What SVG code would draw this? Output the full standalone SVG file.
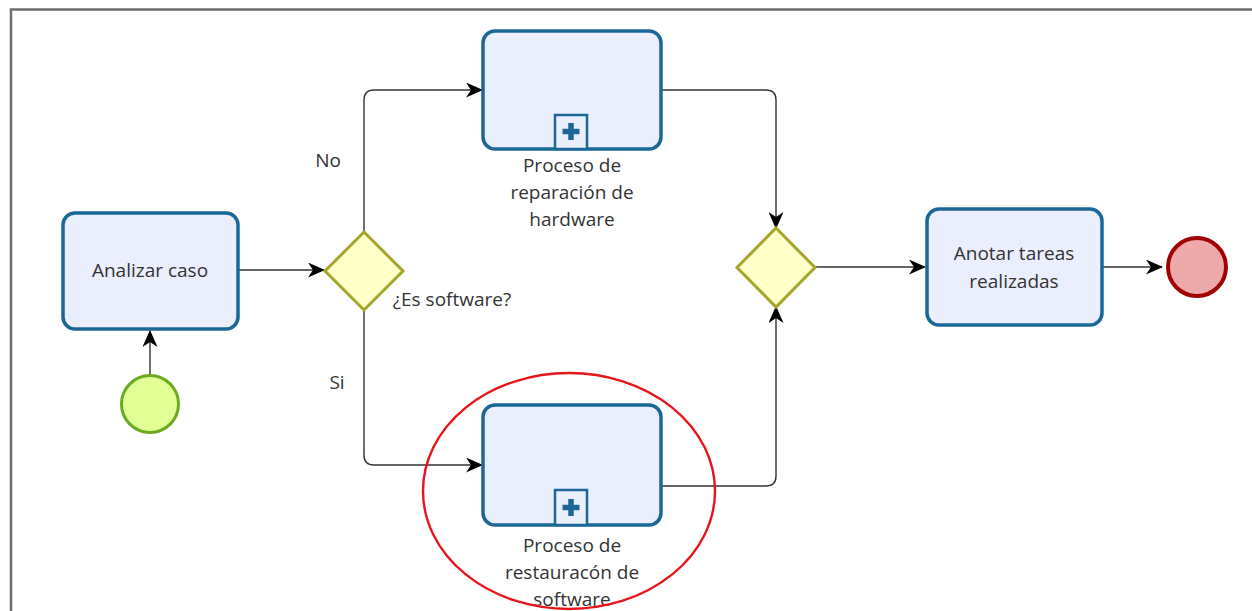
<svg xmlns="http://www.w3.org/2000/svg" width="1252" height="611" viewBox="0 0 1252 611">
  <style>
    .task { fill: #ebeefd; stroke: #1b6898; stroke-width: 3.5; }
    .gate { fill: #ffffc8; stroke: #a5a52a; stroke-width: 3; }
    .flow { fill: none; stroke: #333333; stroke-width: 1.4; }
    .lbl { font-family: "Open Sans", "Noto Sans", sans-serif; font-size: 19px; fill: #333333; text-anchor: middle; }
    .mark { fill: #ebeefd; stroke: #1b6898; stroke-width: 2.5; }
  </style>
  <defs>
    <marker id="arrow" viewBox="0 0 17 15" refX="16" refY="7.5" markerWidth="17" markerHeight="15" markerUnits="userSpaceOnUse" orient="auto">
      <path d="M0,0 L17,7.5 L0,15 L5,7.5 z" fill="#000000"/>
    </marker>
  </defs>

  <rect x="0" y="0" width="1252" height="611" fill="#ffffff"/>
  <!-- canvas frame -->
  <path d="M11,611 V9.5 H1252" fill="none" stroke="#6e6e6e" stroke-width="2.5"/>

  <g id="connectors">
    <path class="flow" d="M150,375 V331" marker-end="url(#arrow)"/>
    <path class="flow" d="M239,270 H324" marker-end="url(#arrow)"/>
    <path class="flow" d="M364,232 V100 Q364,90 374,90 H482" marker-end="url(#arrow)"/>
    <path class="flow" d="M364,310 V455 Q364,465 374,465 H482" marker-end="url(#arrow)"/>
    <path class="flow" d="M662,90 H766 Q776,90 776,100 V228" marker-end="url(#arrow)"/>
    <path class="flow" d="M662,486 H766 Q776,486 776,476 V307" marker-end="url(#arrow)"/>
    <path class="flow" d="M815,267 H925" marker-end="url(#arrow)"/>
    <path class="flow" d="M1102,267 H1162" marker-end="url(#arrow)"/>
    <text class="lbl" x="328" y="167">No</text>
    <text class="lbl" x="337" y="389">Si</text>
  </g>

  <g id="start">
    <circle cx="150" cy="404" r="28.5" fill="#e2ff95" stroke="#6aab1f" stroke-width="3"/>
  </g>

  <g id="analizar-caso">
    <rect class="task" x="63" y="213" width="175" height="116" rx="12"/>
    <text class="lbl" x="150" y="277">Analizar caso</text>
  </g>

  <g id="es-software">
    <path class="gate" d="M364,232 L403,271 L364,310 L325,271 z"/>
    <text class="lbl" x="452" y="306">¿Es software?</text>
  </g>

  <g id="reparacion-hardware">
    <rect class="task" x="483" y="31" width="178" height="118" rx="12"/>
    <rect class="mark" x="555" y="115" width="32" height="34"/>
    <path d="M571,123 V140 M562.5,131.5 H579.5" stroke="#1b6898" stroke-width="5.5"/>
    <text class="lbl" x="572" y="172">Proceso de</text>
    <text class="lbl" x="572" y="199">reparación de</text>
    <text class="lbl" x="572" y="226">hardware</text>
  </g>

  <g id="restauracion-software">
    <rect class="task" x="483" y="405" width="178" height="120" rx="12"/>
    <rect class="mark" x="555" y="490" width="32" height="35"/>
    <path d="M571,499 V516 M562.5,507.5 H579.5" stroke="#1b6898" stroke-width="5.5"/>
    <text class="lbl" x="572" y="552">Proceso de</text>
    <text class="lbl" x="572" y="579">restauracón de</text>
    <text class="lbl" x="572" y="606">software</text>
  </g>

  <g id="union">
    <path class="gate" d="M776,228 L815,267.5 L776,307 L737,267.5 z"/>
  </g>

  <g id="anotar-tareas">
    <rect class="task" x="927" y="209" width="175" height="116" rx="12"/>
    <text class="lbl" x="1014" y="260">Anotar tareas</text>
    <text class="lbl" x="1014" y="288">realizadas</text>
  </g>

  <g id="end">
    <circle cx="1197" cy="267" r="29" fill="#eeaaaa" stroke="#a00000" stroke-width="4"/>
  </g>

  <!-- highlight around the software branch -->
  <ellipse cx="569" cy="491" rx="146" ry="118" fill="none" stroke="#e8141c" stroke-width="2.4"/>
</svg>
